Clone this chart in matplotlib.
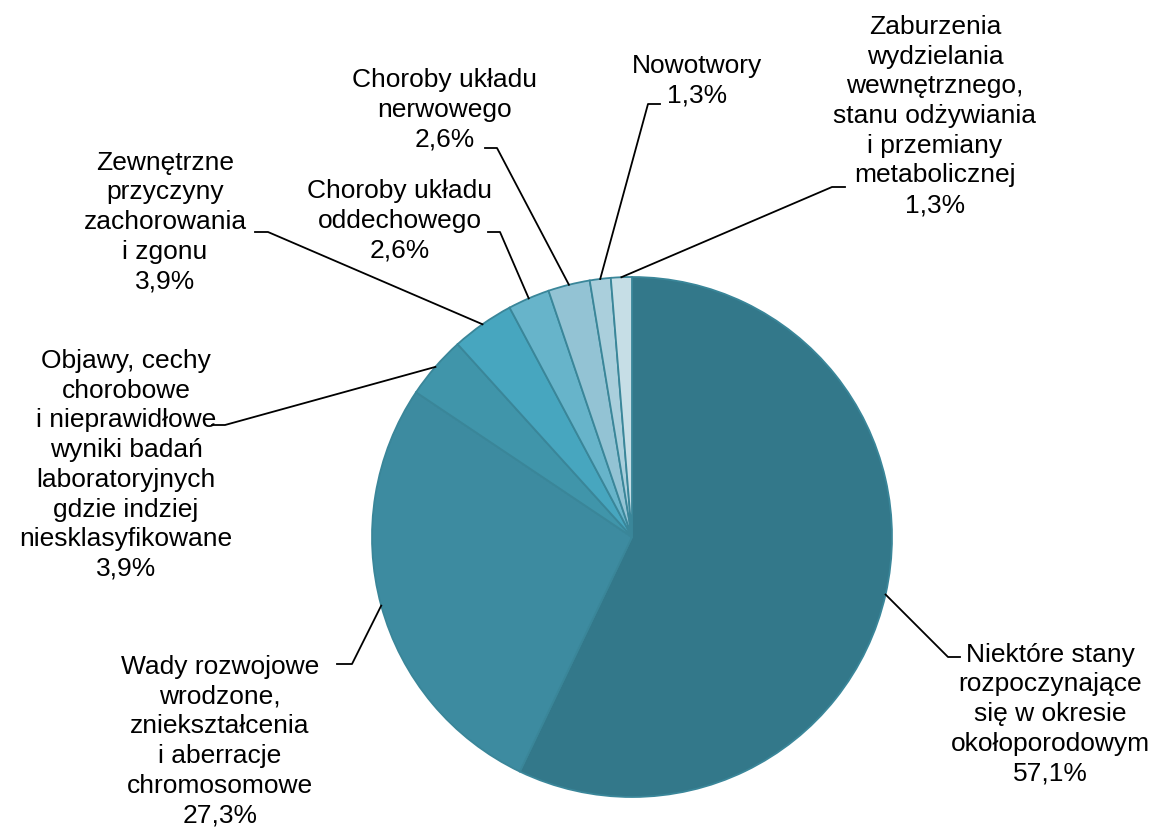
import numpy as np
import matplotlib.pyplot as plt

plt.rcParams['font.family'] = ['Liberation Sans', 'DejaVu Sans']

labels = [
    "Niektóre stany\nrozpoczynające\nsię w okresie\nokołoporodowym",
    "Wady rozwojowe\nwrodzone,\nzniekształcenia\ni aberracje\nchromosomowe",
    "Objawy, cechy\nchorobowe\ni nieprawidłowe\nwyniki badań\nlaboratoryjnych\ngdzie indziej\nniesklasyfikowane",
    "Zewnętrzne\nprzyczyny\nzachorowania\ni zgonu",
    "Choroby układu\noddechowego",
    "Choroby układu\nnerwowego",
    "Nowotwory",
    "Zaburzenia\nwydzielania\nwewnętrznego,\nstanu odżywiania\ni przemiany\nmetabolicznej",
]
values = [57.1, 27.3, 3.9, 3.9, 2.6, 2.6, 1.3, 1.3]
colors = ["#33788A", "#3D8BA0", "#4095AA", "#47A6BF", "#67B4CA",
          "#93C3D4", "#AACFDC", "#C6DEE6"]

# layout in pixels: pie centre, radius, label centres, leader elbows
CX, CY, R = 632, 537, 260
W, H = 1150, 827
text_px = [(1050, 714), (220, 741), (126, 465), (165, 222),
           (400, 221), (445, 110), (697, 81), (935, 116)]
elbow_px = [((948, 657), (960, 657)), ((352, 664), (337, 664)),
            ((225, 425), (212, 425)), ((268, 232), (255, 232)),
            ((500, 232), (488, 232)), ((497, 148), (485, 148)),
            ((648, 104), (660, 104)), ((832, 187), (845, 187))]


def px(x, y):
    return (x - CX) / R, (CY - y) / R


fig = plt.figure(figsize=(11.5, 8.27), dpi=100)
ax = fig.add_axes([0, 0, 1, 1])

wedges, _ = ax.pie(values, colors=colors, startangle=90, counterclock=False,
                   radius=1.0, center=(0, 0), frame=True,
                   wedgeprops=dict(edgecolor="#3A8699", linewidth=1.3))
ax.set_xlim(px(0, 0)[0], px(W, 0)[0])
ax.set_ylim(px(0, H)[1], px(0, 0)[1])
ax.set_aspect('equal')
ax.axis('off')

for w, lab, v, tp, (e1, e2) in zip(wedges, labels, values, text_px, elbow_px):
    ang = np.deg2rad((w.theta1 + w.theta2) / 2)
    x0, y0 = np.cos(ang), np.sin(ang)
    x1, y1 = px(*e1)
    x2, y2 = px(*e2)
    ax.plot([x0, x1, x2], [y0, y1, y2], color="black", lw=1.3)
    txt = lab + "\n" + f"{v:.1f}".replace(".", ",") + "%"
    tx, ty = px(*tp)
    ax.text(tx, ty, txt, ha="center", va="center", multialignment="center",
            fontsize=19, linespacing=1.3, color="black")

fig.savefig("out.png", dpi=100)
